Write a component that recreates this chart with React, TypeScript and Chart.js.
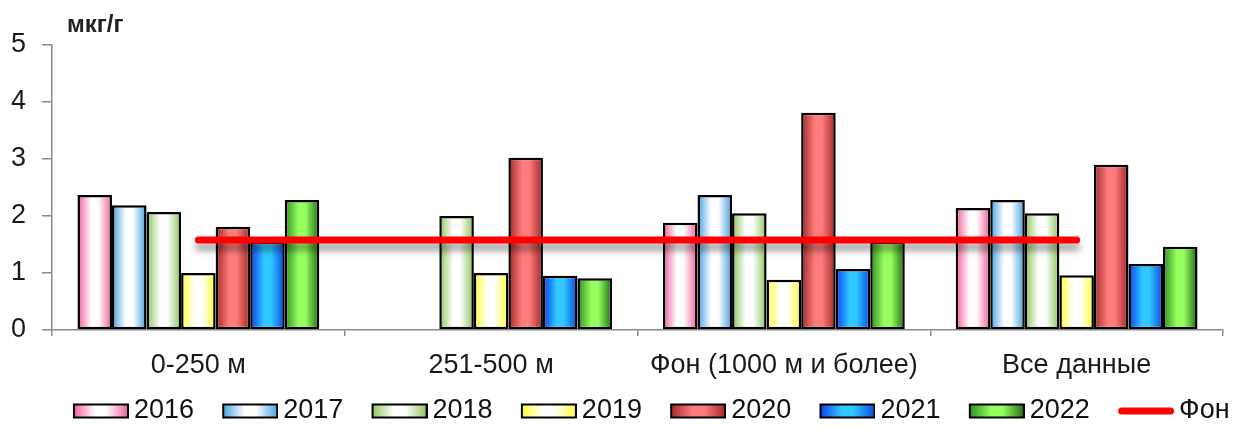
import React, { useEffect, useRef } from 'react';
import { Chart, registerables } from 'chart.js';

Chart.register(...registerables);

// ---- data ----
const categories = ['0-250 м', '251-500 м', 'Фон (1000 м и более)', 'Все данные'];
const seriesNames = ['2016', '2017', '2018', '2019', '2020', '2021', '2022'];
const values2016 = [2.37, null, 1.88, 2.14];
const values2017 = [2.19, null, 2.37, 2.28];
const values2018 = [2.07, 2.0, 2.05, 2.05];
const values2019 = [1.0, 1.0, 0.88, 0.96];
const values2020 = [1.81, 3.02, 3.81, 2.9];
const values2021 = [1.55, 0.95, 1.07, 1.16];
const values2022 = [2.28, 0.91, 1.55, 1.46];
const fonName = 'Фон';
const fonValues = [1.58, 1.58, 1.58, 1.58];
const yMin = 0;
const yMax = 5;
const yStep = 1;
const unitLabel = 'мкг/г';

const seriesValues = [values2016, values2017, values2018, values2019, values2020, values2021, values2022];

// ---- styles ----
const FONT = '"Liberation Sans", Arial, Helvetica, sans-serif';
const palettes: string[][] = [
  ['#f25a9c', '#ffffff', '#f25a9c'],
  ['#45a0e0', '#ffffff', '#45a0e0'],
  ['#8cc45a', '#ffffff', '#8cc45a'],
  ['#ffff2e', '#ffffff', '#ffff2e'],
  ['#a02828', '#ff7c7c', '#a02828'],
  ['#0a3cf0', '#30c8ff', '#0a48e0'],
  ['#2c8c1c', '#96ff60', '#1f6a10'],
];

function makeGradient(ctx: CanvasRenderingContext2D, x0: number, x1: number, pal: string[]) {
  const g = ctx.createLinearGradient(x0, 0, x1, 0);
  g.addColorStop(0, pal[0]);
  g.addColorStop(0.4, pal[1]);
  g.addColorStop(0.6, pal[1]);
  g.addColorStop(1, pal[2]);
  return g;
}

function makeLegendImage(pal: string[] | null): HTMLCanvasElement {
  const c = document.createElement('canvas');
  const off = 33;
  const bw = 56;
  const bh = 15;
  c.width = off + bw;
  c.height = 20;
  const ctx = c.getContext('2d') as CanvasRenderingContext2D;
  const y0 = (c.height - bh) / 2;
  if (pal) {
    ctx.fillStyle = makeGradient(ctx, off, off + bw, pal);
    ctx.fillRect(off + 1, y0 + 1, bw - 2, bh - 2);
    ctx.strokeStyle = '#000';
    ctx.lineWidth = 2;
    ctx.strokeRect(off + 1, y0 + 1, bw - 2, bh - 2);
  } else {
    ctx.strokeStyle = '#ff0000';
    ctx.lineWidth = 7;
    ctx.lineCap = 'round';
    ctx.beginPath();
    ctx.moveTo(off + 3.5, c.height / 2);
    ctx.lineTo(off + bw - 3.5, c.height / 2);
    ctx.stroke();
  }
  return c;
}

const barGradientPlugin = {
  id: 'barGradient',
  beforeDatasetsDraw(chart: any) {
    const ctx = chart.ctx as CanvasRenderingContext2D;
    chart.data.datasets.forEach((ds: any, i: number) => {
      const meta = chart.getDatasetMeta(i);
      if (meta.type !== 'bar') return;
      const pal = palettes[i];
      meta.data.forEach((el: any) => {
        if (!isFinite(el.x) || !isFinite(el.width)) return;
        const half = el.width / 2;
        const g = makeGradient(ctx, el.x - half, el.x + half, pal);
        el.options = Object.assign({}, el.options, { backgroundColor: g });
      });
    });
  },
};

const lineShadowPlugin = {
  id: 'lineShadow',
  beforeDatasetDraw(chart: any, args: any) {
    if (chart.getDatasetMeta(args.index).type !== 'line') return;
    const ctx = chart.ctx as CanvasRenderingContext2D;
    ctx.save();
    ctx.shadowColor = 'rgba(0,0,0,0.4)';
    ctx.shadowBlur = 7;
    ctx.shadowOffsetY = 7;
  },
  afterDatasetDraw(chart: any, args: any) {
    if (chart.getDatasetMeta(args.index).type !== 'line') return;
    chart.ctx.restore();
  },
};

const unitLabelPlugin = {
  id: 'unitLabel',
  afterDraw(chart: any) {
    const ctx = chart.ctx as CanvasRenderingContext2D;
    ctx.save();
    ctx.font = `bold 24px ${FONT}`;
    ctx.fillStyle = '#222';
    ctx.textAlign = 'left';
    ctx.textBaseline = 'middle';
    ctx.fillText(unitLabel, 67, 25);
    ctx.restore();
  },
};

export default function App() {
  const canvasRef = useRef<HTMLCanvasElement | null>(null);

  useEffect(() => {
    const canvas = canvasRef.current;
    if (!canvas) return;
    const legendImages: HTMLCanvasElement[] = [
      ...palettes.map((p) => makeLegendImage(p)),
      makeLegendImage(null),
    ];

    const barDatasets = seriesNames.map((name, i) => ({
      type: 'bar' as const,
      label: name,
      data: seriesValues[i],
      backgroundColor: palettes[i][0],
      borderColor: '#000',
      borderWidth: 2.5,
      borderSkipped: false,
      categoryPercentage: 0.826,
      barPercentage: 1,
      order: 0,
    }));

    const chart = new Chart(canvas, {
      type: 'bar',
      data: {
        labels: categories,
        datasets: [
          ...barDatasets,
          {
            type: 'line' as const,
            label: fonName,
            data: fonValues,
            borderColor: '#ff0000',
            backgroundColor: '#ff0000',
            borderWidth: 7,
            borderCapStyle: 'round',
            pointRadius: 0,
            pointHoverRadius: 0,
            fill: false,
            tension: 0,
            order: -1,
          } as any,
        ],
      },
      options: {
        responsive: false,
        animation: false,
        layout: { padding: { left: 42, right: 0, top: 45, bottom: -6.5 } },
        plugins: {
          tooltip: { enabled: false },
          title: { display: false },
          legend: {
            position: 'bottom',
            align: 'center',
            labels: {
              usePointStyle: true,
              pointStyleWidth: 72,
              padding: 3.75,
              color: '#111',
              font: { size: 27, family: FONT },
              generateLabels: (ch: any) => {
                const items = (Chart.defaults.plugins.legend.labels as any).generateLabels(ch);
                items.forEach((it: any) => {
                  it.pointStyle = legendImages[it.datasetIndex];
                });
                return items;
              },
              sort: (a: any, b: any) => a.datasetIndex - b.datasetIndex,
            },
          },
        },
        scales: {
          x: {
            type: 'category',
            offset: true,
            grid: {
              display: true,
              offset: true,
              drawOnChartArea: false,
              drawTicks: true,
              tickLength: 6,
              color: '#8a8a8a',
              lineWidth: 1.5,
            },
            border: { display: true, color: '#8a8a8a', width: 1.5 },
            ticks: {
              padding: 13,
              color: '#1a1a1a',
              font: { size: 27, family: FONT },
              maxRotation: 0,
              autoSkip: false,
            },
            afterFit: (s: any) => {
              s.height = 63.75;
              s.paddingRight = 13;
              s.paddingLeft = 0;
            },
          },
          y: {
            type: 'linear',
            min: yMin,
            max: yMax,
            grid: {
              display: true,
              drawOnChartArea: false,
              drawTicks: true,
              tickLength: 10,
              color: '#8a8a8a',
              lineWidth: 1.5,
            },
            border: { display: true, color: '#8a8a8a', width: 1.5 },
            ticks: {
              stepSize: yStep,
              mirror: true,
              crossAlign: 'near',
              padding: -41,
              color: '#1a1a1a',
              font: { size: 27, family: FONT },
            },
            afterFit: (s: any) => {
              s.width = 10;
            },
          },
        },
      },
      plugins: [barGradientPlugin, lineShadowPlugin, unitLabelPlugin],
    });

    return () => {
      chart.destroy();
    };
  }, []);

  return (
    <div style={{ position: 'absolute', left: 0, top: 0, width: 1236, height: 428, background: '#fff' }}>
      <canvas ref={canvasRef} width={1236} height={428} style={{ display: 'block' }} />
    </div>
  );
}
